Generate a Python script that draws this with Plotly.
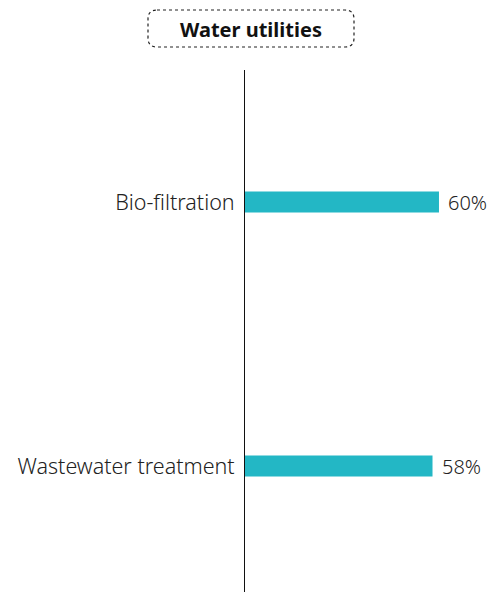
import plotly.graph_objects as go

categories = ["Bio-filtration", "Wastewater treatment"]
shares = [60, 58]
value_labels = ["60%", "58%"]
title_text = "Water utilities"

# page has an 8px body margin, so pixel positions are shifted by 8;
# keep the figure small enough that no scrollbar appears
W, H = 479, 584
ML, MR, MT, MB = 237, 4, 62, 0
PW, PH = W - ML - MR, H - MT - MB


def px_to_paper(x, y):
    return (x - ML) / PW, (H - MB - y) / PH


def rounded_box(x0, y0, x1, y1, r):
    # pixel box -> paper-coordinate svg path with rounded corners
    ax0, ay0 = px_to_paper(x0, y0)
    ax1, ay1 = px_to_paper(x1, y1)
    rx, ry = r / PW, r / PH
    return (f"M {ax0 + rx},{ay0} L {ax1 - rx},{ay0} Q {ax1},{ay0} {ax1},{ay0 - ry} "
            f"L {ax1},{ay1 + ry} Q {ax1},{ay1} {ax1 - rx},{ay1} "
            f"L {ax0 + rx},{ay1} Q {ax0},{ay1} {ax0},{ay1 + ry} "
            f"L {ax0},{ay0 - ry} Q {ax0},{ay0} {ax0 + rx},{ay0} Z")


fig = go.Figure()
fig.add_trace(go.Bar(
    y=categories, x=shares, orientation="h",
    marker=dict(color="#23b7c5", line=dict(width=0)),
    width=0.08,
    hoverinfo="skip",
))

for cat, val, lab in zip(categories, shares, value_labels):
    fig.add_annotation(x=val, y=cat, text=lab, showarrow=False,
                       xanchor="left", yanchor="middle", xshift=7,
                       font=dict(size=20, color="#222222", weight=300))

tx, ty = px_to_paper(243, 21)
fig.add_annotation(x=tx, y=ty, xref="paper", yref="paper", text="<b>" + title_text + "</b>",
                   showarrow=False, font=dict(size=20, color="#111111"),
                   xanchor="center", yanchor="middle")
fig.add_shape(type="path", xref="paper", yref="paper",
              path=rounded_box(140, 2, 346, 39, 9),
              line=dict(color="#222222", width=1.2, dash="dot"))

fig.update_layout(
    width=W, height=H,
    margin=dict(l=ML, r=MR, t=MT, b=MB),
    paper_bgcolor="white", plot_bgcolor="white",
    font=dict(family="Noto Sans", color="#222222"),
    showlegend=False,
    xaxis=dict(range=[0, PW / 3.233], visible=False, showgrid=False),
    yaxis=dict(range=[1.477, -0.5], showline=True, linecolor="#111111", linewidth=1,
               showgrid=False, ticks="outside", ticklen=5, tickcolor="rgba(0,0,0,0)",
               tickfont=dict(size=21.5, color="#222222", weight=300)),
)

fig.write_html("out.html")
